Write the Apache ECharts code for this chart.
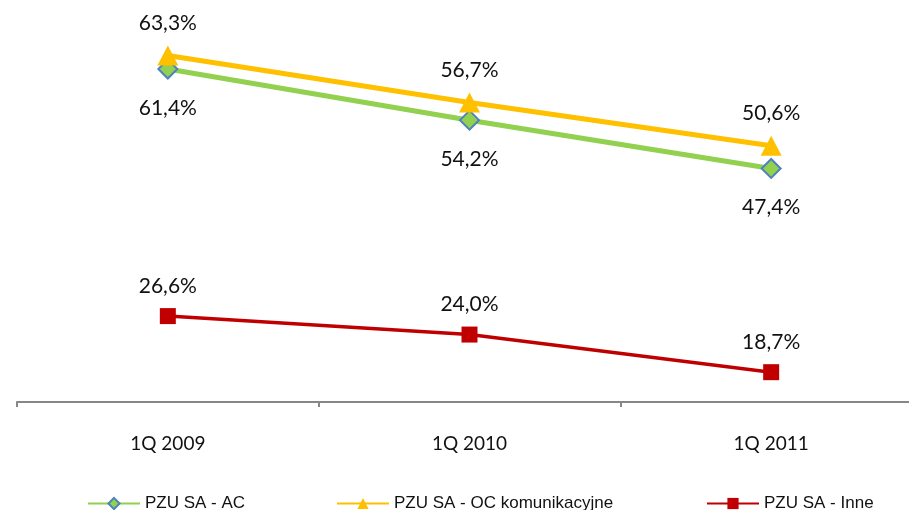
<!DOCTYPE html>
<html>
<head>
<meta charset="utf-8">
<script src="https://cdn.jsdelivr.net/npm/echarts@6/dist/echarts.min.js"></script>
<style>
  html, body { margin: 0; padding: 0; background: #ffffff; }
  #chart { width: 909px; height: 510px; }
</style>
</head>
<body>
<div id="chart"></div>
<script>
// Quarters on the category axis
var categories = ['1Q 2009', '1Q 2010', '1Q 2011'];

// Loss ratios (%) per line of business
var seriesNames = ['PZU SA - AC', 'PZU SA - OC komunikacyjne', 'PZU SA - Inne'];
var acValues = [61.4, 54.2, 47.4];
var ocValues = [63.3, 56.7, 50.6];
var inneValues = [26.6, 24.0, 18.7];

function pct(p) {
  return p.value.toFixed(1).replace('.', ',') + '%';
}

var labelFont = {
  fontFamily: 'Lato',
  fontSize: 21,
  color: '#111111'
};

function makeLabel(dy) {
  return Object.assign({
    show: true,
    position: 'inside',
    offset: [0, dy],
    formatter: pct
  }, labelFont);
}

var legendText = { fontFamily: 'Liberation Sans', fontSize: 17, color: '#111111' };

function makeLegend(name, left) {
  return {
    data: [name],
    left: left,
    top: 490,
    itemWidth: 52,
    itemHeight: 14,
    itemGap: 0,
    textStyle: legendText,
    selectedMode: false
  };
}

var chart = echarts.init(document.getElementById('chart'), null, { renderer: 'canvas' });

chart.setOption({
  animation: false,
  backgroundColor: '#ffffff',
  // plot area runs past the right edge, so the last category slot is cut off
  grid: {
    left: 17, width: 905, top: 8, bottom: 108,
    containLabel: false,
    outerBoundsMode: 'none'
  },
  legend: [
    makeLegend(seriesNames[0], 82),
    makeLegend(seriesNames[1], 331),
    makeLegend(seriesNames[2], 701)
  ],
  xAxis: {
    type: 'category',
    data: categories,
    boundaryGap: true,
    axisLine: { show: true, lineStyle: { color: '#878787', width: 2 } },
    axisTick: { show: true, length: 5, lineStyle: { color: '#878787', width: 2 } },
    axisLabel: { margin: 32, fontFamily: 'Lato', fontSize: 19, color: '#111111' },
    splitLine: { show: false }
  },
  yAxis: {
    type: 'value',
    min: 14.5,
    max: 70,
    show: false,
    splitLine: { show: false }
  },
  series: [
    {
      name: seriesNames[0],
      type: 'line',
      data: acValues,
      z: 2,
      symbol: 'diamond',
      symbolSize: 19,
      showAllSymbol: true,
      lineStyle: { color: '#92D050', width: 5 },
      itemStyle: { color: '#92D050', borderColor: '#4F81BD', borderWidth: 2 },
      label: makeLabel(39)
    },
    {
      name: seriesNames[1],
      type: 'line',
      data: ocValues,
      z: 3,
      symbol: 'triangle',
      symbolSize: [21, 20],
      lineStyle: { color: '#FFC000', width: 5 },
      itemStyle: { color: '#FFC000' },
      label: makeLabel(-32)
    },
    {
      name: seriesNames[2],
      type: 'line',
      data: inneValues,
      z: 2,
      symbol: 'rect',
      symbolSize: 16,
      lineStyle: { color: '#C00000', width: 3.5 },
      itemStyle: { color: '#C00000' },
      label: makeLabel(-30)
    }
  ]
});
</script>
</body>
</html>
